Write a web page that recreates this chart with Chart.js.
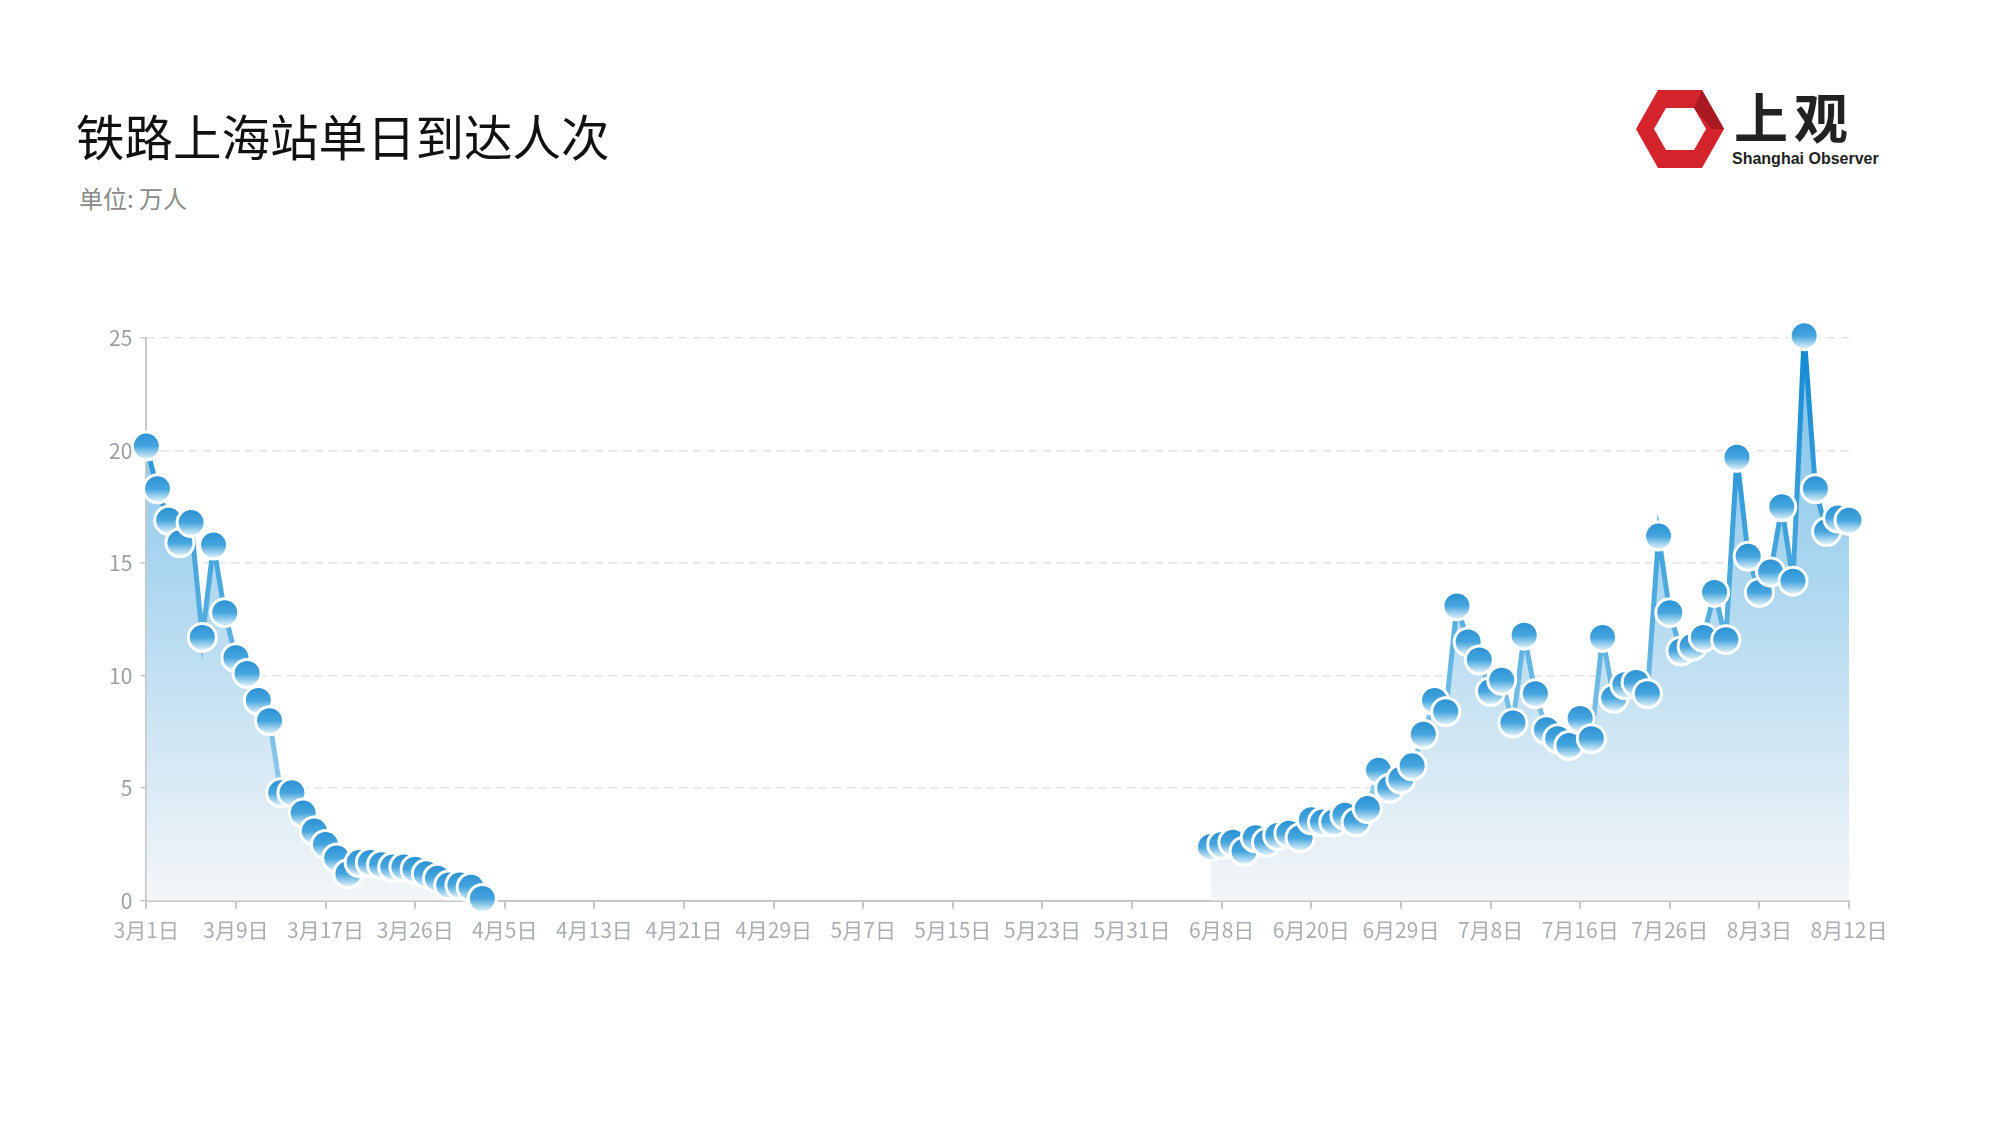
<!DOCTYPE html>
<html lang="zh">
<head>
  <meta charset="UTF-8">
  <title>铁路上海站单日到达人次</title>
  <script src="https://cdn.jsdelivr.net/npm/chart.js"></script>
  <style>
    body { margin: 0; width: 2000px; height: 1127px; background: #fff; font-family: "Noto Sans CJK SC", "Noto Sans", sans-serif; position: relative; overflow: hidden; }
    h1 { position: absolute; left: 76px; top: 100px; margin: 0; font-size: 48.5px; font-weight: 400; color: #111; }
    .unit { position: absolute; left: 79px; top: 180px; font-size: 24px; color: #8a8a8a; }
    .logo { position: absolute; left: 1636px; top: 88px; }
    .logo .cn { position: absolute; left: 98px; top: -12px; font-size: 54px; font-weight: 700; color: #222; letter-spacing: 6px; white-space: nowrap; font-family: "Noto Sans CJK SC", serif; }
    .logo .en { position: absolute; left: 96px; top: 62px; font-size: 16px; font-weight: 700; color: #222; white-space: nowrap; font-family: "Liberation Sans", Arial, sans-serif; }
    #wrap { position: absolute; left: 0; top: 0; width: 2000px; height: 1127px; }
  </style>
</head>
<body>
  <h1>铁路上海站单日到达人次</h1>
  <div class="unit">单位: 万人</div>
  <div class="logo">
    <svg width="88" height="82" viewBox="0 0 88 82">
      <polygon points="22,2 66,2 88,41 66,80 22,80 0,41" fill="#d4232b"/>
      <polygon points="30,20 58,20 70,41 58,62 30,62 18,41" fill="#fff"/>
      <polygon points="66,2 88,41 76,41 58,20" fill="#a81a20"/>
    </svg>
    <div class="cn">上观</div>
    <div class="en">Shanghai Observer</div>
  </div>
  <div id="wrap"><canvas id="c" width="2000" height="1127"></canvas></div>

  <script>
    // 刻度标签，每 8 个类目一个
    const tickLabels = ['3月1日','3月9日','3月17日','3月26日','4月5日','4月13日','4月21日','4月29日','5月7日','5月15日','5月23日','5月31日','6月8日','6月20日','6月29日','7月8日','7月16日','7月26日','8月3日','8月12日'];

    // 3月1日起的前段数据
    const springValues = [20.2,18.3,16.9,15.9,16.8,11.7,15.8,12.8,10.8,10.1,8.9,8.0,4.8,4.8,3.9,3.1,2.5,1.9,1.2,1.7,1.7,1.6,1.5,1.5,1.4,1.2,1.0,0.7,0.7,0.6,0.1];
    // 中间无数据的类目数
    const gapCount = 64;
    // 6月上旬起的后段数据
    const summerValues = [2.4,2.5,2.6,2.2,2.8,2.6,2.9,3.0,2.8,3.6,3.5,3.5,3.8,3.5,4.1,5.8,5.0,5.4,6.0,7.4,8.9,8.4,13.1,11.5,10.7,9.3,9.8,7.9,11.8,9.2,7.6,7.2,6.9,8.1,7.2,11.7,9.0,9.6,9.7,9.2,
                          16.2,12.8,11.1,11.3,11.7,13.7,11.6,19.7,15.3,13.7,14.6,17.5,14.2,25.1,18.3,16.4,17.0,16.9];

    const values = springValues.concat(new Array(gapCount).fill(null), summerValues);
    const labels = values.map((v, i) => i % 8 === 0 ? tickLabels[i / 8] : '');

    function vGrad(ctx, area, stops) {
      const g = ctx.createLinearGradient(0, area.top, 0, area.bottom);
      stops.forEach(s => g.addColorStop(s[0], s[1]));
      return g;
    }

    new Chart(document.getElementById('c'), {
      type: 'line',
      data: {
        labels: labels,
        datasets: [{
          data: values,
          spanGaps: false,
          clip: false,
          fill: 'origin',
          borderWidth: 5,
          tension: 0,
          borderColor: c => {
            const a = c.chart.chartArea;
            if (!a) return '#3d9fdc';
            return vGrad(c.chart.ctx, a, [[0, '#1188d2'], [0.5, '#55aee0'], [1, '#b5dcf2']]);
          },
          backgroundColor: c => {
            const a = c.chart.chartArea;
            if (!a) return '#cde6f5';
            return vGrad(c.chart.ctx, a, [[0, '#7ac0e8'], [0.4, '#a9d5ef'], [1, '#f4f6f8']]);
          },
          pointRadius: 14,
          pointHoverRadius: 14,
          pointBorderWidth: 3,
          pointBorderColor: '#ffffff',
          pointBackgroundColor: c => {
            const ch = c.chart;
            const v = c.raw;
            if (v == null || !ch.scales.y || !ch.chartArea) return '#2f98d6';
            const y = ch.scales.y.getPixelForValue(v);
            const g = ch.ctx.createLinearGradient(0, y - 14, 0, y + 14);
            g.addColorStop(0, '#2a90d3');
            g.addColorStop(0.5, '#45a5de');
            g.addColorStop(1, '#eef8fc');
            return g;
          }
        }]
      },
      options: {
        responsive: false,
        animation: false,
        layout: { padding: { left: 101, right: 151, top: 338, bottom: 175 } },
        plugins: { legend: { display: false }, tooltip: { enabled: false } },
        scales: {
          x: {
            grid: { display: true, drawOnChartArea: false, drawTicks: true, tickLength: 8, color: '#c8c8c8', lineWidth: 2 },
            border: { color: '#c8c8c8', width: 2 },
            ticks: {
              autoSkip: false, maxRotation: 0, color: '#a9aeb4', padding: 9,
              font: { family: 'Noto Sans CJK SC', size: 21 },
              callback: (v) => labels[v] === '' ? null : labels[v]
            }
          },
          y: {
            min: 0, max: 25,
            ticks: { stepSize: 5, color: '#9a9ea4', padding: 8, font: { family: 'Noto Sans CJK SC', size: 21 } },
            grid: { color: '#e4e4e4', lineWidth: 1.5, drawTicks: true, tickLength: 6, tickColor: '#c8c8c8' },
            border: { color: '#c8c8c8', width: 2, dash: [8, 6], display: true }
          }
        }
      }
    });
  </script>
</body>
</html>
